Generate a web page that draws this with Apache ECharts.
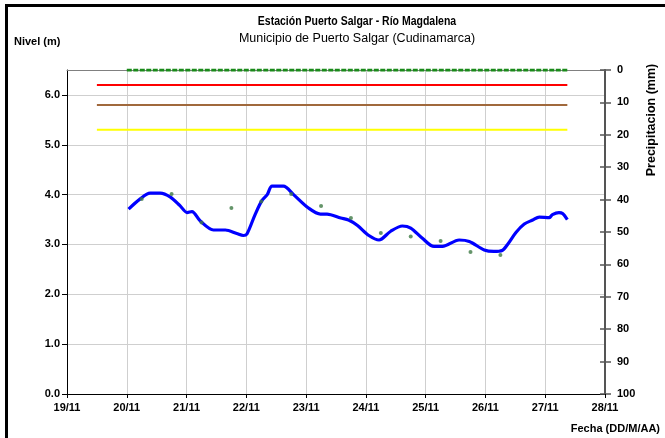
<!DOCTYPE html>
<html>
<head>
<meta charset="utf-8">
<script src="https://cdn.jsdelivr.net/npm/echarts@6/dist/echarts.min.js"></script>
<style>
  html, body { margin: 0; padding: 0; background: #fff; }
  #chart { width: 665px; height: 438px; }
</style>
</head>
<body>
<div id="chart"></div>
<script>
// Nivel del rio (m), dia de noviembre (fraccion del dia)
var levelDays = [20.03, 20.22, 20.39, 20.56, 20.73, 20.89, 21.01, 21.09, 21.23, 21.45, 21.65, 21.84, 21.95, 22.01,
  22.15, 22.26, 22.35, 22.43, 22.62, 22.79, 23.04, 23.24, 23.35, 23.58, 23.71, 23.86, 24.05, 24.22, 24.41,
  24.61, 24.75, 24.94, 25.14, 25.28, 25.56, 25.73, 25.98, 26.14, 26.28, 26.37, 26.51, 26.65, 26.79, 26.9,
  27.07, 27.12, 27.23, 27.29, 27.37];
var levelValues = [3.71, 3.91, 4.03, 4.03, 3.95, 3.78, 3.64, 3.66, 3.47, 3.29, 3.29, 3.22, 3.18, 3.21,
  3.61, 3.88, 4.0, 4.17, 4.17, 4.0, 3.73, 3.61, 3.61, 3.53, 3.49, 3.38, 3.18, 3.09, 3.26,
  3.37, 3.33, 3.13, 2.96, 2.96, 3.09, 3.06, 2.89, 2.86, 2.88, 3.0, 3.24, 3.41, 3.49, 3.55,
  3.54, 3.6, 3.64, 3.62, 3.5];

// lecturas de mira (puntos verdes)
var dotDays = [20.25, 20.75, 21.25, 21.75, 22.25, 22.75, 23.25, 23.75, 24.25, 24.75, 25.25, 25.75, 26.25];
var dotValues = [3.91, 4.01, 3.44, 3.73, 3.86, 4.01, 3.77, 3.53, 3.23, 3.16, 3.07, 2.85, 2.79];

// umbrales de alerta (m)
var alertDays = [19.5, 27.37];
var redLevel = 6.2;
var brownLevel = 5.8;
var yellowLevel = 5.3;

// precipitacion (mm)
var rainDays = [20, 21, 22, 23, 24, 25, 26, 27, 27.37];
var rainValues = [0, 0, 0, 0, 0, 0, 0, 0, 0];

var dayTicks = [19, 20, 21, 22, 23, 24, 25, 26, 27, 28];

function pairs(xs, ys) {
  var out = [];
  for (var i = 0; i < xs.length; i++) out.push([xs[i], ys[i]]);
  return out;
}
function flat(v) {
  return alertDays.map(function (d) { return [d, v]; });
}

var FONT = '"Liberation Sans", Arial, sans-serif';
var chart = echarts.init(document.getElementById('chart'), null, { renderer: 'canvas' });

var lbl = { color: '#000', fontFamily: FONT, fontWeight: 'bold', fontSize: 11 };

var option = {
  animation: false,
  backgroundColor: '#fff',
  grid: { left: 67, right: 60, top: 70, bottom: 44 },
  graphic: [
    { type: 'rect', shape: { x: 6.5, y: 5.5, width: 900, height: 700 }, style: { fill: 'none', stroke: '#000', lineWidth: 3 }, z: -1 },
    // titulo un poco condensado como en el original
    { type: 'text', x: 357, y: 15, scaleX: 0.84, style: { text: 'Estación Puerto Salgar - Río Magdalena', font: 'bold 12.5px ' + FONT, fill: '#000', textAlign: 'center' } },
    { type: 'text', x: 357, y: 32, style: { text: 'Municipio de Puerto Salgar (Cudinamarca)', font: '12.5px ' + FONT, fill: '#000', textAlign: 'center' } },
    { type: 'text', x: 14, y: 36, style: { text: 'Nivel (m)', font: 'bold 11px ' + FONT, fill: '#000' } },
    { type: 'text', x: 660, y: 423, style: { text: 'Fecha (DD/M/AA)', font: 'bold 11px ' + FONT, fill: '#000', textAlign: 'right' } },
    { type: 'text', x: 652, y: 120, rotation: Math.PI / 2, style: { text: 'Precipitacion (mm)', font: 'bold 12.5px ' + FONT, fill: '#000', textAlign: 'center', textVerticalAlign: 'middle' } }
  ],
  xAxis: [{
    type: 'value', min: 19, max: 28, interval: 1,
    axisLine: { lineStyle: { color: '#000', width: 1 } },
    axisTick: { length: 4, lineStyle: { color: '#000' } },
    axisLabel: Object.assign({ margin: 8, formatter: function (v) { return dayTicks.indexOf(v) >= 0 ? v + '/11' : ''; } }, lbl),
    splitLine: { show: true, lineStyle: { color: '#cfcfcf', width: 1 } }
  }, {
    type: 'value', position: 'top', min: 19, max: 28,
    axisLine: { onZero: false, lineStyle: { color: '#808080', width: 1 } },
    axisTick: { show: false }, axisLabel: { show: false }, splitLine: { show: false }
  }],
  yAxis: [{
    type: 'value', min: 0, max: 6.5, interval: 1,
    axisLine: { show: true, lineStyle: { color: '#000', width: 1 } },
    axisTick: { show: true, length: 5, lineStyle: { color: '#000' } },
    axisLabel: Object.assign({ margin: 7, showMaxLabel: false, formatter: function (v) { return v.toFixed(1); } }, lbl),
    splitLine: { show: true, lineStyle: { color: '#cfcfcf', width: 1 } }
  }, {
    type: 'value', position: 'right', min: 0, max: 100, interval: 10, inverse: true,
    axisLine: { show: true, lineStyle: { color: '#555', width: 2 } },
    axisTick: { show: true, length: 6, lineStyle: { color: '#555', width: 1.5 } },
    axisLabel: Object.assign({ margin: 12 }, lbl),
    splitLine: { show: false }
  }, {
    type: 'value', position: 'right', min: 0, max: 100, interval: 10, inverse: true,
    axisLine: { show: false },
    axisTick: { show: true, inside: true, length: 5, lineStyle: { color: '#555', width: 1.5 } },
    axisLabel: { show: false },
    splitLine: { show: false }
  }],
  series: [
    { name: 'Precipitacion', type: 'line', yAxisIndex: 1, data: pairs(rainDays, rainValues), symbol: 'none',
      lineStyle: { color: '#1a8a1a', width: 3, type: [5, 1.5] }, z: 3 },
    { name: 'Alerta roja', type: 'line', data: flat(redLevel), symbol: 'none', lineStyle: { color: '#ff0000', width: 2 } },
    { name: 'Alerta naranja', type: 'line', data: flat(brownLevel), symbol: 'none', lineStyle: { color: '#a0693c', width: 2 } },
    { name: 'Alerta amarilla', type: 'line', data: flat(yellowLevel), symbol: 'none', lineStyle: { color: '#ffff00', width: 2 } },
    { name: 'Nivel', type: 'line', data: pairs(levelDays, levelValues), symbol: 'none', smooth: 0.3,
      lineStyle: { color: '#0000ff', width: 3.2 }, z: 4 },
    { name: 'Mira', type: 'scatter', data: pairs(dotDays, dotValues), symbol: 'circle', symbolSize: 4,
      itemStyle: { color: '#3f7a45' }, z: 5 }
  ]
};
chart.setOption(option);
</script>
</body>
</html>
